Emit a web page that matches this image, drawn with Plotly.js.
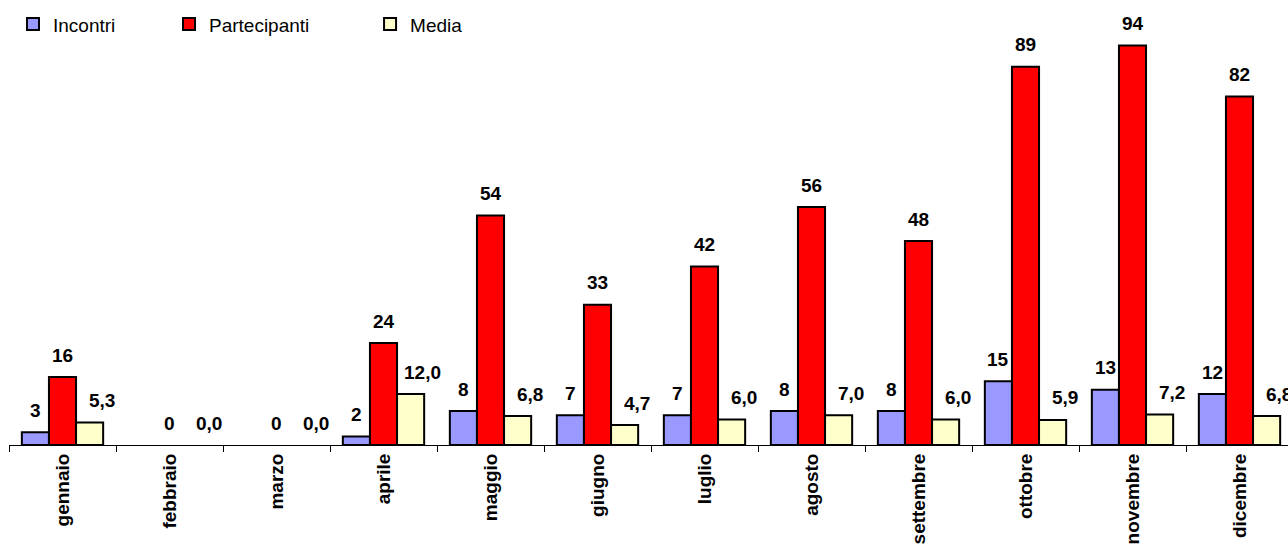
<!DOCTYPE html>
<html>
<head>
<meta charset="utf-8">
<script src="https://cdn.plot.ly/plotly-3.0.1.min.js"></script>
<style>
  html, body { margin: 0; padding: 0; overflow: hidden; background: #fff; }
  #chart { width: 1296px; height: 545px; }
</style>
</head>
<body>
<div id="chart"></div>
<script>
// ---- data ----
const months = ["gennaio", "febbraio", "marzo", "aprile", "maggio", "giugno",
                "luglio", "agosto", "settembre", "ottobre", "novembre", "dicembre"];
const incontri = [3, 0, 0, 2, 8, 7, 7, 8, 8, 15, 13, 12];
const partecipanti = [16, 0, 0, 24, 54, 33, 42, 56, 48, 89, 94, 82];
const media = [5.3, 0.0, 0.0, 12.0, 6.8, 4.7, 6.0, 7.0, 6.0, 5.9, 7.2, 6.8];

// ---- styling ----
const FONT = "Liberation Sans, Arial, sans-serif";
const BARGAP = 0.24;
const barW = (1 - BARGAP) / 3;

const series = [
  { name: "Incontri", y: incontri, color: "#9999FF", legend: "legend",
    fmt: v => String(v), showZero: false, xshift: 0 },
  { name: "Partecipanti", y: partecipanti, color: "#FF0000", legend: "legend2",
    fmt: v => String(v), showZero: true, xshift: 0 },
  { name: "Media", y: media, color: "#FFFFCC", legend: "legend3",
    fmt: v => v.toFixed(1).replace(".", ","), showZero: true, xshift: 12 }
];

const traces = series.map(s => ({
  type: "bar",
  name: s.name,
  x: months,
  y: s.y,
  legend: s.legend,
  marker: {
    color: s.color,
    line: { color: "#000000", width: s.y.map(v => (v === 0 ? 0 : 2)) }
  },
  hoverinfo: "x+y+name"
}));

const annotations = [];
series.forEach((s, si) => {
  const off = (si - 1) * barW;
  s.y.forEach((v, i) => {
    if (v === 0 && !s.showZero) return;
    annotations.push({
      x: i + off, y: v, xref: "x", yref: "y",
      text: s.fmt(v), showarrow: false,
      xanchor: "center", yanchor: "middle",
      xshift: s.xshift, yshift: 22,
      font: { family: FONT, size: 19, weight: "bold", color: "#000" }
    });
  });
});

const legendBase = {
  orientation: "h", xanchor: "left", yanchor: "middle", y: 0.99,
  bgcolor: "rgba(0,0,0,0)", borderwidth: 0,
  font: { family: FONT, size: 19, color: "#000" }
};

const layout = {
  width: 1296, height: 545,
  margin: { l: 9, r: 3, t: 20, b: 100, pad: 0 },
  paper_bgcolor: "#fff", plot_bgcolor: "#fff",
  barmode: "group", bargap: BARGAP, bargroupgap: 0,
  showlegend: true,
  legend: Object.assign({}, legendBase, { x: 0.0031 }),
  legend2: Object.assign({}, legendBase, { x: 0.1246 }),
  legend3: Object.assign({}, legendBase, { x: 0.2812 }),
  xaxis: {
    type: "category",
    range: [-0.5, 11.5],
    showline: true, linecolor: "#000", linewidth: 1,
    ticks: "outside", ticklen: 6, tickcolor: "#000", tickwidth: 1,
    tickson: "boundaries",
    tickangle: -90,
    tickfont: { family: FONT, size: 19, weight: "bold", color: "#000" },
    showgrid: false, zeroline: false, automargin: false
  },
  yaxis: {
    range: [0, 100], visible: false, showgrid: false, zeroline: false
  },
  annotations: annotations
};

Plotly.newPlot("chart", traces, layout, { displayModeBar: false, staticPlot: true });
</script>
</body>
</html>
